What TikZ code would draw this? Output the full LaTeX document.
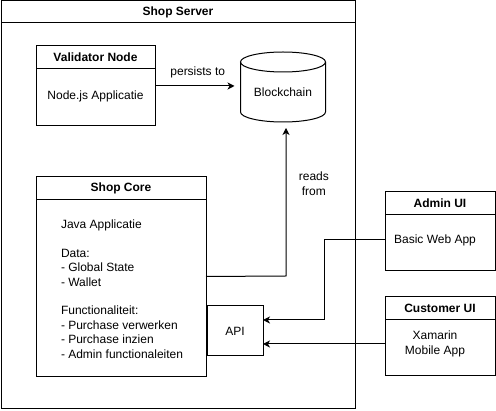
\documentclass[tikz,border=0pt]{standalone}
\usepackage{fontspec}
\setmainfont{Liberation Sans}
\usetikzlibrary{positioning, shapes.geometric, arrows.meta}
\tikzset{lane/.style={draw, line width=1pt, outer sep=0, inner sep=0}}
\tikzset{lanetitle/.style={draw, line width=1pt, outer sep=0, inner sep=0, minimum height=23, font=\fontsize{12}{14.4}\selectfont\bfseries}}
\tikzset{plain/.style={inner sep=0, outer sep=0, align=center}}
\tikzset{arr/.style={draw, line width=1pt, -{Stealth[length=7pt, width=7pt, inset=2pt]}}}
\tikzset{cyl/.style={x radius=42.5pt, y radius=10pt}}

\begin{document}
\begin{tikzpicture}[x=1pt, y=-1pt, every node/.style={font=\fontsize{12}{14.4}\selectfont}]
	\useasboundingbox (0,0) rectangle (496,411);
	% outer container
	\node[lane, minimum width=354, minimum height=408] (server) at (178, 205) {};
	\node[lanetitle, minimum width=354, minimum height=22, below=0 of server.north] (servertitle) {Shop Server};
	%
	\node[lane, minimum width=119, minimum height=80] (val) at (95.5, 86) {};
	\node[lanetitle, minimum width=119, below=0 of val.north] (valtitle) {Validator Node};
	\node[plain] (valtext) at (95.5, 96) {Node.js Applicatie};
	%
	\node[plain, minimum width=85, minimum height=70] (chain) at (283, 87) {};
	\draw[line width=1pt] ([yshift=-10pt]chain.north) ellipse[cyl];
	\draw[line width=1pt] ([yshift=-10pt]chain.north west) -- ([yshift=10pt]chain.south west)
		arc[start angle=180, end angle=360, cyl] -- ([yshift=-10pt]chain.north east);
	\node[plain] (chaintext) at (283, 92) {Blockchain};
	%
	\node[lane, minimum width=170, minimum height=200] (core) at (121, 276.5) {};
	\node[lanetitle, minimum width=170, below=0 of core.north] (coretitle) {Shop Core};
	\node[plain, align=left, anchor=west] (coretext) at (61, 289) {Java Applicatie\\[14.4pt]
		Data:\\- Global State\\- Wallet\\[14.4pt]
		Functionaliteit:\\- Purchase verwerken\\- Purchase inzien\\- Admin functionaleiten};
	\node[lane, minimum width=56, minimum height=50] (api) at (235, 331) {API};
	%
	\node[lane, minimum width=110, minimum height=79] (admin) at (440, 231.5) {};
	\node[lanetitle, minimum width=110, below=0 of admin.north] (admintitle) {Admin UI};
	\node[plain] (admintext) at (435, 240) {Basic Web App};
	%
	\node[lane, minimum width=110, minimum height=79] (cust) at (440, 336.5) {};
	\node[lanetitle, minimum width=110, below=0 of cust.north] (custtitle) {Customer UI};
	\node[plain] (custtext) at (435, 344) {Xamarin\\Mobile App};
	%
	\coordinate (readup) at (286, 276);
	\coordinate (admbend) at (324, 320);
	%
	\draw[arr, shorten >=6pt] (val.east) to
		node[pos=0.5, above=4pt] {persists to} (val.east -| chain.west);
	\draw[arr, shorten >=6pt] (core.east) -- (readup) to
		node[pos=0.6, right=9pt, align=center] {reads\\from} (readup |- chain.south);
	\draw[arr] (admin.west |- admintext) -| (admbend) -- (api.east |- admbend);
	\draw[arr] (cust.west |- custtext) -- (api.east |- custtext);
\end{tikzpicture}
\end{document}
